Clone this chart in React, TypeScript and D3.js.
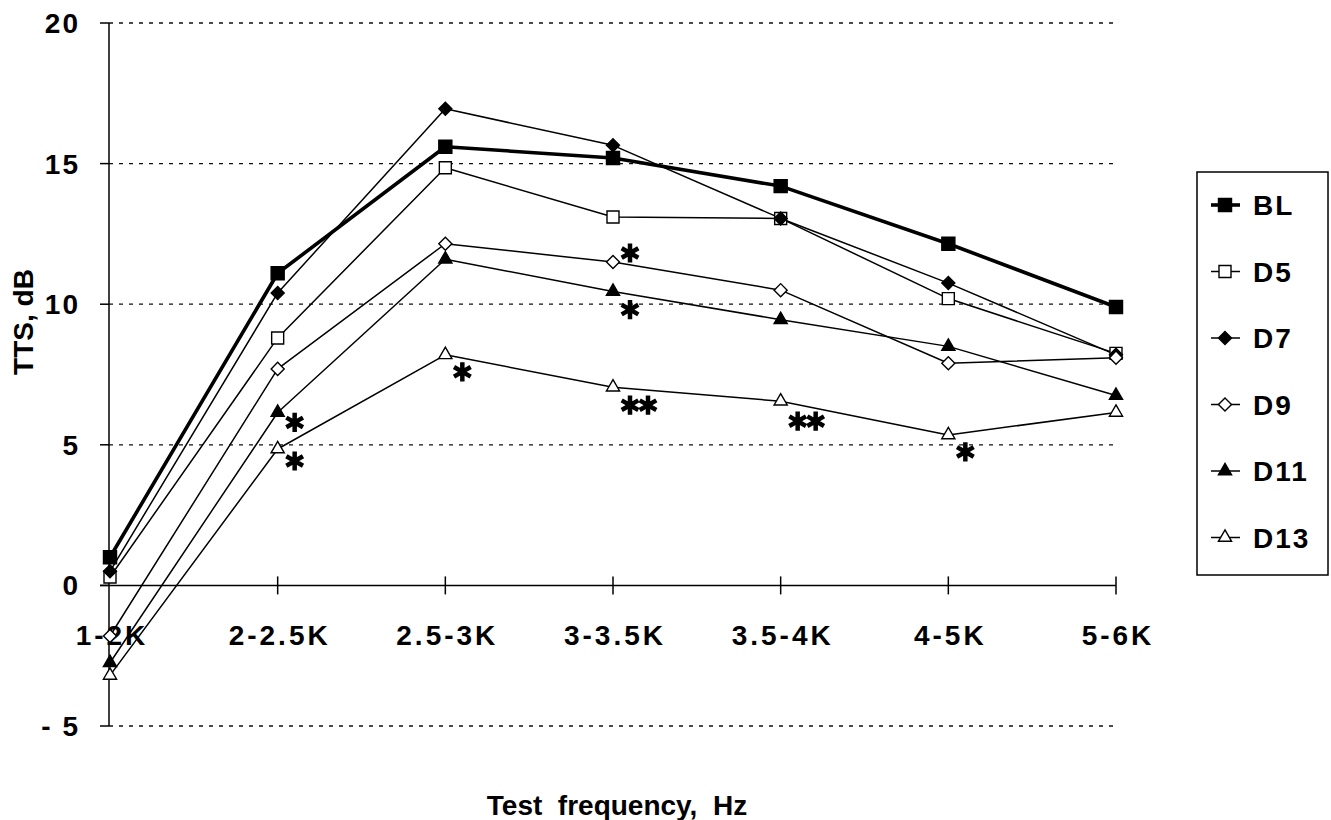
import React from "react";
import * as d3 from "d3";

const categories = ["1-2K", "2-2.5K", "2.5-3K", "3-3.5K", "3.5-4K", "4-5K", "5-6K"];
const yTicks = [-5, 0, 5, 10, 15, 20];
const yTickLabels = ["- 5", "0", "5", "10", "15", "20"];

const BL = [1.0, 11.1, 15.6, 15.2, 14.2, 12.15, 9.9];
const D5 = [0.3, 8.8, 14.85, 13.1, 13.05, 10.2, 8.25];
const D7 = [0.5, 10.4, 16.95, 15.65, 13.05, 10.75, 8.2];
const D9 = [-1.8, 7.7, 12.15, 11.5, 10.5, 7.9, 8.1];
const D11 = [-2.75, 6.15, 11.6, 10.45, 9.45, 8.5, 6.75];
const D13 = [-3.2, 4.85, 8.2, 7.05, 6.55, 5.35, 6.15];

const seriesNames = ["BL", "D5", "D7", "D9", "D11", "D13"];
const seriesValues = [BL, D5, D7, D9, D11, D13];
const seriesMarkers = ["square", "square", "diamond", "diamond", "triangle", "triangle"];
const seriesFilled = [true, false, true, false, true, false];

// significance marks: series, category index, count
const starSeries = ["D11", "D13", "D13", "D9", "D11", "D13", "D13", "D13"];
const starCategory = [1, 1, 2, 3, 3, 3, 4, 5];
const starCount = [1, 1, 1, 1, 1, 2, 2, 1];
const starDy = [10, 12, 17, -9, 18, 18, 20, 17];

const FONT = "'Liberation Sans', Arial, Helvetica, sans-serif";

function markerPath(kind: string, big: boolean) {
  if (kind === "square") return d3.symbol().type(d3.symbolSquare).size(big ? 170 : 144)()!;
  if (kind === "diamond") return d3.symbol().type(d3.symbolSquare).size(85)()!;
  return d3.symbol().type(d3.symbolTriangle).size(75)()!;
}

function Marker({ kind, filled, x, y, big }: any) {
  const rot = kind === "diamond" ? 45 : 0;
  return (
    <path
      d={markerPath(kind, big)}
      transform={`translate(${x},${y}) rotate(${rot})`}
      fill={filled ? "#000" : "#fff"}
      stroke="#000"
      strokeWidth={1.4}
    />
  );
}

export default function App() {
  const W = 1331, H = 820;
  const x = d3.scalePoint<string>().domain(categories).range([110, 1116]).padding(0);
  const y = d3.scaleLinear().domain([-5, 20]).range([726, 23]);
  const line = d3
    .line<number>()
    .x((_, i) => x(categories[i])!)
    .y((d) => y(d));
  const axisX = 109;
  const gridEnd = 1117;
  const star = d3.symbol().type(d3.symbolAsterisk).size(260)()!;

  const legendX = 1197, legendW = 131, legendTop = 172, legendBottom = 575;
  const legendY0 = 205, legendStep = 66.5;

  return (
    <svg width={W} height={H} style={{ position: "absolute", left: 0, top: 0, background: "#fff" }}>
      {/* gridlines */}
      {yTicks.filter((t) => t !== 0).map((t) => (
        <line key={"g" + t} x1={axisX} x2={gridEnd} y1={y(t)} y2={y(t)} stroke="#111" strokeWidth={1.3} strokeDasharray="4,6" />
      ))}
      {/* y axis */}
      <line x1={axisX} x2={axisX} y1={y(20)} y2={y(-5)} stroke="#000" strokeWidth={1.5} />
      {yTicks.map((t, i) => (
        <g key={"yt" + t}>
          <line x1={axisX - 9} x2={axisX} y1={y(t)} y2={y(t)} stroke="#000" strokeWidth={1.5} />
          <text x={80} y={y(t)} dy="0.36em" textAnchor="end" fontFamily={FONT} fontWeight="bold" fontSize={28} letterSpacing={2} style={{ whiteSpace: "pre" }}>
            {yTickLabels[i]}
          </text>
        </g>
      ))}
      {/* x axis */}
      <line x1={axisX - 9} x2={x(categories[categories.length - 1])!} y1={y(0)} y2={y(0)} stroke="#000" strokeWidth={1.5} />
      {categories.map((c, i) => (
        <g key={"xt" + c}>
          {i > 0 && <line x1={x(c)!} x2={x(c)!} y1={y(0) - 9} y2={y(0) + 9} stroke="#000" strokeWidth={1.5} />}
          <text x={x(c)! + 2} y={645} textAnchor="middle" fontFamily={FONT} fontWeight="bold" fontSize={28} letterSpacing={3}>
            {c}
          </text>
        </g>
      ))}
      {/* axis titles */}
      <text x={617} y={815} textAnchor="middle" fontFamily={FONT} fontWeight="bold" fontSize={28} style={{ whiteSpace: "pre" }}>
        {"Test  frequency,  Hz"}
      </text>
      <text transform="translate(33,322) rotate(-90)" textAnchor="middle" fontFamily={FONT} fontWeight="bold" fontSize={28}>
        TTS, dB
      </text>
      {/* series */}
      {seriesValues.map((vals, si) => (
        <g key={seriesNames[si]}>
          <path d={line(vals)!} fill="none" stroke="#000" strokeWidth={si === 0 ? 3.6 : 1.5} strokeLinejoin="round" />
        </g>
      ))}
      {seriesValues.map((vals, si) => (
        <g key={"m" + seriesNames[si]}>
          {vals.map((v, i) => (
            <Marker key={i} kind={seriesMarkers[si]} filled={seriesFilled[si]} x={x(categories[i])!} y={y(v)} big={si === 0} />
          ))}
        </g>
      ))}
      {/* significance asterisks */}
      {starSeries.map((s, k) => {
        const si = seriesNames.indexOf(s);
        const ci = starCategory[k];
        const px = x(categories[ci])!;
        const py = y(seriesValues[si][ci]);
        return (
          <g key={"s" + k}>
            {d3.range(starCount[k]).map((j) => (
              <path key={j} d={star} transform={`translate(${px + 17 + j * 18},${py + starDy[k]})`} fill="none" stroke="#000" strokeWidth={4.5} />
            ))}
          </g>
        );
      })}
      {/* legend */}
      <rect x={legendX} y={legendTop} width={legendW} height={legendBottom - legendTop} fill="#fff" stroke="#000" strokeWidth={1.5} />
      {seriesNames.map((n, si) => {
        const ly = legendY0 + si * legendStep;
        return (
          <g key={"l" + n}>
            <line x1={1211} x2={1240} y1={ly} y2={ly} stroke="#000" strokeWidth={si === 0 ? 3.6 : 1.5} />
            <Marker kind={seriesMarkers[si]} filled={seriesFilled[si]} x={1225} y={ly} big={si === 0} />
            <text x={1253} y={ly} dy="0.36em" fontFamily={FONT} fontWeight="bold" fontSize={28} letterSpacing={2}>
              {n}
            </text>
          </g>
        );
      })}
    </svg>
  );
}
